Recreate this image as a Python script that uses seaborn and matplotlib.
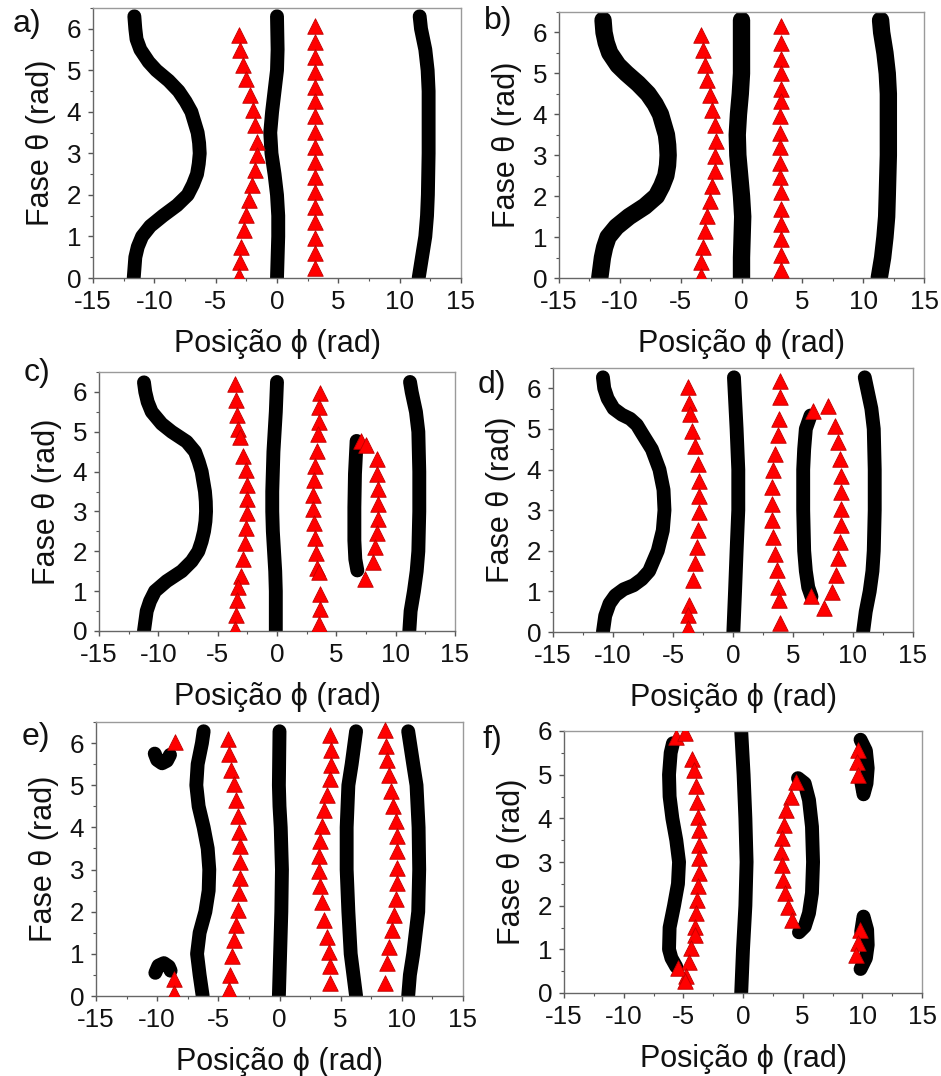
import matplotlib
matplotlib.use("Agg")
import matplotlib.pyplot as plt
from matplotlib.ticker import MultipleLocator
import seaborn as sns

# ---------------------------------------------------------------- panel a
a_left_phi = [-11.63, -11.55, -11.45, -11.14, -10.46, -9.84, -8.83, -8.02, -7.45, -6.98,
              -6.47, -6.35, -6.30, -6.38, -6.52, -6.85, -7.28, -8.15, -9.29, -10.33,
              -11.0, -11.35, -11.55, -11.68]
a_left_theta = [6.3, 6.0, 5.75, 5.5, 5.2, 5.0, 4.75, 4.5, 4.25, 4.0,
                3.5, 3.25, 3.0, 2.75, 2.5, 2.25, 2.0, 1.75, 1.5, 1.25,
                1.0, 0.75, 0.5, 0.0]
a_mid_phi = [0.0, 0.05, 0.0, -0.2, -0.4, -0.55, -0.45, -0.2, 0.0, 0.1, 0.1, 0.05, 0.0]
a_mid_theta = [6.3, 5.5, 5.0, 4.5, 4.0, 3.5, 3.0, 2.5, 2.0, 1.5, 1.0, 0.5, 0.0]
a_right_phi = [11.63, 11.74, 12.09, 12.28, 12.36, 12.36, 12.30, 12.23, 12.09, 11.82, 11.55]
a_right_theta = [6.3, 6.0, 5.5, 5.0, 4.5, 3.0, 2.0, 1.5, 1.0, 0.5, 0.0]
a_tri1_phi = [-3.13, -2.99, -2.77, -2.53, -2.23, -1.98, -1.77, -1.63, -1.63, -1.77,
              -2.04, -2.31, -2.50, -2.72, -2.93, -3.04, -3.13]
a_tri1_theta = [5.86, 5.49, 5.13, 4.79, 4.41, 4.05, 3.68, 3.28, 2.96, 2.60,
                2.24, 1.87, 1.51, 1.15, 0.75, 0.39, 0.06]
a_tri2_phi = [3.12, 3.12, 3.12, 3.1, 3.1, 3.08, 3.08, 3.08, 3.08, 3.08,
              3.08, 3.08, 3.1, 3.1, 3.12, 3.12, 3.12]
a_tri2_theta = [6.06, 5.68, 5.32, 4.97, 4.60, 4.25, 3.89, 3.52, 3.16, 2.79,
                2.43, 2.06, 1.70, 1.34, 0.97, 0.60, 0.24]

# ---------------------------------------------------------------- panel b
b_left_phi = [-11.38, -11.3, -11.12, -10.83, -10.15, -9.46, -8.5, -7.68, -7.1, -6.66,
              -6.17, -6.07, -6.03, -6.08, -6.22, -6.55, -6.99, -7.95, -9.24, -10.28,
              -10.97, -11.25, -11.43, -11.65]
b_left_theta = [6.3, 6.0, 5.75, 5.5, 5.2, 5.0, 4.75, 4.5, 4.25, 4.0,
                3.5, 3.25, 3.0, 2.75, 2.5, 2.25, 2.0, 1.75, 1.5, 1.25,
                1.0, 0.75, 0.5, 0.0]
b_mid_phi = [0.0, 0.0, 0.0, -0.1, -0.25, -0.35, -0.3, -0.15, 0.0, 0.1, 0.05, 0.0, 0.0]
b_mid_theta = [6.3, 5.5, 5.0, 4.5, 4.0, 3.5, 3.0, 2.5, 2.0, 1.5, 1.0, 0.5, 0.0]
b_right_phi = [11.43, 11.52, 11.79, 11.98, 12.07, 12.07, 11.98, 11.93, 11.79, 11.6, 11.32]
b_right_theta = [6.3, 6.0, 5.5, 5.0, 4.5, 3.0, 2.0, 1.5, 1.0, 0.5, 0.0]
b_tri1_phi = [-3.35, -3.2, -3.0, -2.8, -2.6, -2.4, -2.2, -2.1, -2.15, -2.2,
              -2.4, -2.6, -2.8, -3.0, -3.2, -3.3, -3.35]
b_tri1_theta = [5.94, 5.58, 5.21, 4.83, 4.46, 4.10, 3.74, 3.35, 2.98, 2.62,
                2.25, 1.89, 1.52, 1.16, 0.75, 0.39, 0.04]
b_tri2_phi = [3.28, 3.28, 3.26, 3.25, 3.24, 3.22, 3.2, 3.2, 3.2, 3.2,
              3.2, 3.22, 3.24, 3.25, 3.26, 3.28, 3.28]
b_tri2_theta = [6.15, 5.74, 5.36, 5.01, 4.63, 4.32, 3.96, 3.55, 3.19, 2.82,
                2.46, 2.09, 1.69, 1.32, 0.96, 0.55, 0.19]

# ---------------------------------------------------------------- panel c
c_left_phi = [-11.21, -11.1, -10.9, -10.56, -9.72, -8.88, -7.61, -6.91, -6.6, -6.35,
              -6.07, -6.0, -5.98, -6.03, -6.15, -6.35, -6.63, -7.19, -8.03, -9.3,
              -10.28, -10.7, -10.98, -11.21]
c_left_theta = [6.24, 6.0, 5.75, 5.5, 5.2, 5.0, 4.75, 4.5, 4.25, 4.0,
                3.5, 3.25, 3.0, 2.75, 2.5, 2.25, 2.0, 1.75, 1.5, 1.25,
                1.0, 0.75, 0.5, 0.0]
c_mid_phi = [0.0, -0.1, -0.2, -0.3, -0.35, -0.4, -0.4, -0.35, -0.25, -0.15, -0.1, -0.1, -0.1]
c_mid_theta = [6.25, 5.5, 5.0, 4.5, 4.0, 3.5, 3.0, 2.5, 2.0, 1.5, 1.0, 0.5, 0.0]
c_right_phi = [11.21, 11.35, 11.71, 11.91, 11.99, 11.99, 11.91, 11.77, 11.54, 11.26, 11.15]
c_right_theta = [6.25, 6.0, 5.5, 5.0, 4.0, 3.0, 2.0, 1.5, 1.0, 0.5, 0.0]
c_island_phi = [6.71, 6.57, 6.52, 6.52, 6.6, 6.77]
c_island_theta = [4.77, 3.94, 3.1, 2.27, 1.8, 1.52]
c_tri1_phi = [-3.54, -3.45, -3.34, -3.26, -3.1, -2.84, -2.64, -2.56, -2.56, -2.56,
              -2.61, -2.7, -2.84, -3.06, -3.26, -3.4, -3.48, -3.54]
c_tri1_theta = [6.19, 5.79, 5.43, 5.07, 4.86, 4.40, 4.04, 3.67, 3.31, 2.95,
                2.59, 2.20, 1.81, 1.39, 1.10, 0.77, 0.39, 0.06]
c_tri2_phi = [3.62, 3.57, 3.57, 3.48, 3.34, 3.2, 3.12, 3.06, 3.06, 3.12,
              3.2, 3.29, 3.4, 3.5, 3.62, 3.62, 3.57]
c_tri2_theta = [5.98, 5.61, 5.25, 4.94, 4.52, 4.15, 3.79, 3.42, 3.06, 2.70,
                2.34, 1.96, 1.58, 1.48, 0.93, 0.56, 0.18]
c_tri3_phi = [7.08, 7.5, 8.4, 8.4, 8.48, 8.48, 8.48, 8.4, 8.26, 8.06, 7.42]
c_tri3_theta = [4.78, 4.68, 4.32, 3.94, 3.56, 3.19, 2.81, 2.45, 2.10, 1.73, 1.31]

# ---------------------------------------------------------------- panel d
d_left_phi = [-10.84, -10.73, -10.45, -9.95, -9.26, -8.57, -8.01, -7.6, -6.76, -6.13, -5.79,
              -5.71, -5.85, -6.27, -6.99, -7.6, -8.29, -9.12, -9.81, -10.29, -10.65, -10.84]
d_left_theta = [6.27, 6.0, 5.75, 5.5, 5.35, 5.25, 5.1, 4.9, 4.5, 4.0, 3.5,
                3.0, 2.5, 2.0, 1.5, 1.3, 1.15, 1.05, 0.9, 0.7, 0.4, 0.0]
d_mid_phi = [0.08, 0.3, 0.44, 0.44, 0.3, 0.17, 0.03]
d_mid_theta = [6.27, 5.0, 4.0, 3.0, 2.0, 1.0, 0.0]
d_right_phi = [10.98, 11.53, 11.73, 11.81, 11.81, 11.73, 11.62, 11.39, 11.06, 10.84]
d_right_theta = [6.27, 5.5, 5.0, 4.0, 3.0, 2.0, 1.5, 1.0, 0.5, 0.0]
d_island_phi = [6.46, 6.07, 5.93, 5.85, 5.85, 5.93, 6.07, 6.27, 6.54]
d_island_theta = [5.33, 5.0, 4.5, 4.0, 3.0, 2.0, 1.5, 1.1, 0.87]
d_tri1_phi = [-3.71, -3.66, -3.58, -3.38, -3.16, -2.94, -2.83, -2.83, -2.83, -2.88,
              -3.02, -3.16, -3.35, -3.66, -3.71, -3.71]
d_tri1_theta = [6.02, 5.65, 5.37, 4.96, 4.57, 4.14, 3.73, 3.36, 2.95, 2.50,
                2.09, 1.70, 1.28, 0.66, 0.42, 0.09]
d_tri2_phi = [3.91, 3.91, 3.85, 3.71, 3.49, 3.35, 3.27, 3.22, 3.27, 3.35,
              3.49, 3.63, 3.77, 3.85, 3.91]
d_tri2_theta = [6.19, 5.78, 5.25, 4.84, 4.39, 3.99, 3.57, 3.16, 2.75, 2.34,
                1.93, 1.52, 1.11, 0.79, 0.23]
d_tri3_phi = [6.68, 7.93, 8.48, 8.76, 8.9, 9.04, 9.04, 9.04, 9.04, 8.95,
              8.76, 8.57, 8.21, 7.57, 6.54]
d_tri3_theta = [5.45, 5.57, 5.06, 4.67, 4.26, 3.85, 3.45, 3.04, 2.63, 2.22,
                1.81, 1.40, 0.99, 0.58, 0.88]

# ---------------------------------------------------------------- panel e
e_blob_top_phi = [-10.2, -10.0, -9.6, -9.2, -8.95]
e_blob_top_theta = [5.75, 5.6, 5.52, 5.58, 5.72]
e_blob_bot_phi = [-10.15, -9.9, -9.45, -9.05, -8.9]
e_blob_bot_theta = [0.55, 0.72, 0.78, 0.7, 0.6]
e_left_phi = [-6.2, -6.34, -6.69, -6.8, -6.61, -6.2, -5.87, -5.74, -5.79, -6.06,
              -6.53, -6.74, -6.53, -6.28]
e_left_theta = [6.28, 6.0, 5.5, 5.0, 4.5, 4.0, 3.5, 3.0, 2.5, 2.0,
                1.5, 1.0, 0.5, 0.0]
e_mid_phi = [0.0, -0.05, 0.0, 0.1, 0.2, 0.15, 0.05, -0.05]
e_mid_theta = [6.28, 5.0, 4.5, 4.0, 3.0, 2.0, 1.0, 0.0]
e_c6_phi = [6.26, 5.9, 5.63, 5.49, 5.49, 5.63, 5.82, 6.04, 6.26]
e_c6_theta = [6.28, 5.5, 5.0, 4.0, 3.0, 2.0, 1.0, 0.5, 0.0]
e_right_phi = [10.52, 10.93, 11.2, 11.37, 11.42, 11.34, 10.93, 10.66, 10.52]
e_right_theta = [6.28, 5.5, 5.0, 4.0, 3.0, 2.0, 1.0, 0.5, 0.0]
e_tri0_phi = [-8.51, -8.59, -8.65]
e_tri0_theta = [6.02, 0.40, 0.06]
e_tri1_phi = [-4.22, -4.11, -3.97, -3.75, -3.56, -3.43, -3.29, -3.26, -3.26, -3.26,
              -3.29, -3.43, -3.54, -3.7, -3.89, -4.08, -4.16]
e_tri1_theta = [6.10, 5.73, 5.37, 5.02, 4.66, 4.26, 3.88, 3.55, 3.19, 2.80,
                2.44, 2.04, 1.69, 1.33, 0.94, 0.50, 0.14]
e_tri2_phi = [4.13, 4.22, 4.22, 4.13, 3.92, 3.64, 3.45, 3.32, 3.24, 3.24,
              3.32, 3.45, 3.64, 3.86, 4.08, 4.13, 4.13]
e_tri2_theta = [6.20, 5.83, 5.49, 5.15, 4.78, 4.42, 4.03, 3.67, 3.31, 2.96,
                2.60, 2.22, 1.81, 1.41, 1.05, 0.70, 0.30]
e_tri3_phi = [8.62, 8.70, 8.76, 8.97, 9.08, 9.30, 9.49, 9.57, 9.63, 9.63,
              9.57, 9.49, 9.36, 9.17, 8.97, 8.76, 8.62]
e_tri3_theta = [6.32, 5.93, 5.61, 5.25, 4.86, 4.50, 4.14, 3.79, 3.43, 3.03,
                2.68, 2.30, 1.93, 1.57, 1.17, 0.78, 0.32]

# ---------------------------------------------------------------- panel f
f_left_phi = [-5.87, -6.06, -6.2, -6.15, -5.92, -5.59, -5.36, -5.45, -5.78, -6.15,
              -6.2, -6.0, -5.59]
f_left_theta = [5.72, 5.5, 5.0, 4.5, 4.0, 3.5, 3.0, 2.5, 2.0, 1.5,
                1.0, 0.8, 0.6]
f_mid_phi = [-0.2, -0.15, 0.05, 0.2, 0.3, 0.2, 0.0, -0.15]
f_mid_theta = [6.3, 6.0, 5.0, 4.0, 3.0, 2.0, 1.0, 0.0]
f_arc_phi = [4.61, 5.17, 5.53, 5.78, 5.87, 5.78, 5.53, 5.17, 4.69]
f_arc_theta = [4.92, 4.8, 4.42, 3.81, 3.0, 2.29, 1.83, 1.52, 1.39]
f_blob_top_phi = [9.85, 10.3, 10.45, 10.35, 10.1, 9.9]
f_blob_top_theta = [5.8, 5.55, 5.15, 4.8, 4.55, 4.85]
f_blob_bot_phi = [9.9, 10.1, 10.4, 10.45, 10.3, 9.85]
f_blob_bot_theta = [1.4, 1.75, 1.45, 1.1, 0.8, 0.55]
f_tri1_phi = [-5.59, -4.89, -4.25, -4.13, -3.91, -3.83, -3.77, -3.72, -3.69, -3.69,
              -3.72, -3.77, -3.83, -3.91, -3.99, -4.05, -4.33, -4.53, -4.8, -5.45, -4.89]
f_tri1_theta = [5.87, 5.95, 5.37, 5.11, 4.73, 4.38, 4.04, 3.73, 3.39, 3.09,
                2.74, 2.44, 2.13, 1.83, 1.52, 1.33, 1.03, 0.72, 0.38, 0.57, 0.27]
f_tri2_phi = [4.47, 3.99, 3.63, 3.41, 3.3, 3.21, 3.27, 3.35, 3.49, 3.77, 4.13]
f_tri2_theta = [4.84, 4.50, 4.19, 3.85, 3.54, 3.24, 2.93, 2.59, 2.29, 1.98, 1.68]
f_tri3_phi = [9.64, 9.55, 9.64, 9.78, 9.64, 9.44]
f_tri3_theta = [5.56, 5.30, 5.0, 1.45, 1.14, 0.88]

panel_letters = ["a)", "b)", "c)", "d)", "e)", "f)"]
x_label = "Posição ϕ (rad)"
y_label = "Fase θ (rad)"
x_ticks = [-15, -10, -5, 0, 5, 10, 15]
y_ticks = [0, 1, 2, 3, 4, 5, 6]

# ---------------------------------------------------------------- styling
sns.set_theme(style="white")
plt.rcParams["font.family"] = ["Liberation Sans", "DejaVu Sans"]
plt.rcParams["axes.linewidth"] = 1.0

W, H = 941, 1076
fig = plt.figure(figsize=(W / 100, H / 100), dpi=100)

# axes boxes in pixels: left, right, top, bottom
boxes = [(93, 461, 8, 278), (559, 924, 12, 278),
         (99, 455, 372, 631), (553, 913, 368, 632),
         (96, 463, 722, 996), (564, 922, 731, 993)]
letter_pos = [(27, 24), (498, 21), (37, 373), (492, 385), (36, 737), (492, 740)]
y_tops = [6.5, 6.5, 6.5, 6.5, 6.5, 6.0]
line_widths = [10.0, 12.5, 10.0, 10.0, 10.0, 10.0]

curves = [
    [(a_left_phi, a_left_theta), (a_mid_phi, a_mid_theta), (a_right_phi, a_right_theta)],
    [(b_left_phi, b_left_theta), (b_mid_phi, b_mid_theta), (b_right_phi, b_right_theta)],
    [(c_left_phi, c_left_theta), (c_mid_phi, c_mid_theta), (c_right_phi, c_right_theta),
     (c_island_phi, c_island_theta)],
    [(d_left_phi, d_left_theta), (d_mid_phi, d_mid_theta), (d_right_phi, d_right_theta),
     (d_island_phi, d_island_theta)],
    [(e_blob_top_phi, e_blob_top_theta), (e_blob_bot_phi, e_blob_bot_theta),
     (e_left_phi, e_left_theta), (e_mid_phi, e_mid_theta), (e_c6_phi, e_c6_theta),
     (e_right_phi, e_right_theta)],
    [(f_left_phi, f_left_theta), (f_mid_phi, f_mid_theta), (f_arc_phi, f_arc_theta),
     (f_blob_top_phi, f_blob_top_theta), (f_blob_bot_phi, f_blob_bot_theta)],
]
triangles = [
    [(a_tri1_phi, a_tri1_theta), (a_tri2_phi, a_tri2_theta)],
    [(b_tri1_phi, b_tri1_theta), (b_tri2_phi, b_tri2_theta)],
    [(c_tri1_phi, c_tri1_theta), (c_tri2_phi, c_tri2_theta), (c_tri3_phi, c_tri3_theta)],
    [(d_tri1_phi, d_tri1_theta), (d_tri2_phi, d_tri2_theta), (d_tri3_phi, d_tri3_theta)],
    [(e_tri0_phi, e_tri0_theta), (e_tri1_phi, e_tri1_theta), (e_tri2_phi, e_tri2_theta),
     (e_tri3_phi, e_tri3_theta)],
    [(f_tri1_phi, f_tri1_theta), (f_tri2_phi, f_tri2_theta), (f_tri3_phi, f_tri3_theta)],
]

for i in range(6):
    L, R, T, B = boxes[i]
    ax = fig.add_axes([L / W, 1 - B / H, (R - L) / W, (B - T) / H])

    for phi, theta in curves[i]:
        sns.lineplot(x=phi, y=theta, sort=False, estimator=None, color="black",
                     linewidth=line_widths[i], solid_capstyle="round",
                     solid_joinstyle="round", ax=ax, zorder=2)
    for phi, theta in triangles[i]:
        sns.scatterplot(x=phi, y=theta, marker="^", s=125, color="#ff0000",
                        edgecolor="#c00000", linewidth=0.6, ax=ax, zorder=3)

    ax.set_xlim(-15, 15)
    ax.set_ylim(0, y_tops[i])
    ax.set_xticks(x_ticks)
    ax.set_yticks(y_ticks)
    ax.set_xticklabels([str(t) for t in x_ticks])
    ax.set_yticklabels([str(t) for t in y_ticks])
    ax.xaxis.set_minor_locator(MultipleLocator(2.5))
    ax.yaxis.set_minor_locator(MultipleLocator(0.5))
    ax.tick_params(which="both", direction="out", top=False, right=False,
                   bottom=True, left=True, color="#555555")
    ax.tick_params(which="major", length=3.5, width=1.0, pad=5, labelsize=18.7,
                   labelcolor="#111111")
    ax.tick_params(which="minor", length=2.2, width=0.8)
    for side in ("left", "bottom"):
        ax.spines[side].set_color("#666666")
    for side in ("top", "right"):
        ax.spines[side].set_color("#9a9a9a")
    ax.set_xlabel(x_label, fontsize=22, labelpad=11, color="#111111")
    ax.set_ylabel(y_label, fontsize=22, labelpad=8, color="#111111")
    ax.grid(False)

    lx, ly = letter_pos[i]
    fig.text(lx / W, 1 - ly / H, panel_letters[i], fontsize=23, ha="center",
             va="center", color="#111111")

fig.savefig("out.png", dpi=100)
